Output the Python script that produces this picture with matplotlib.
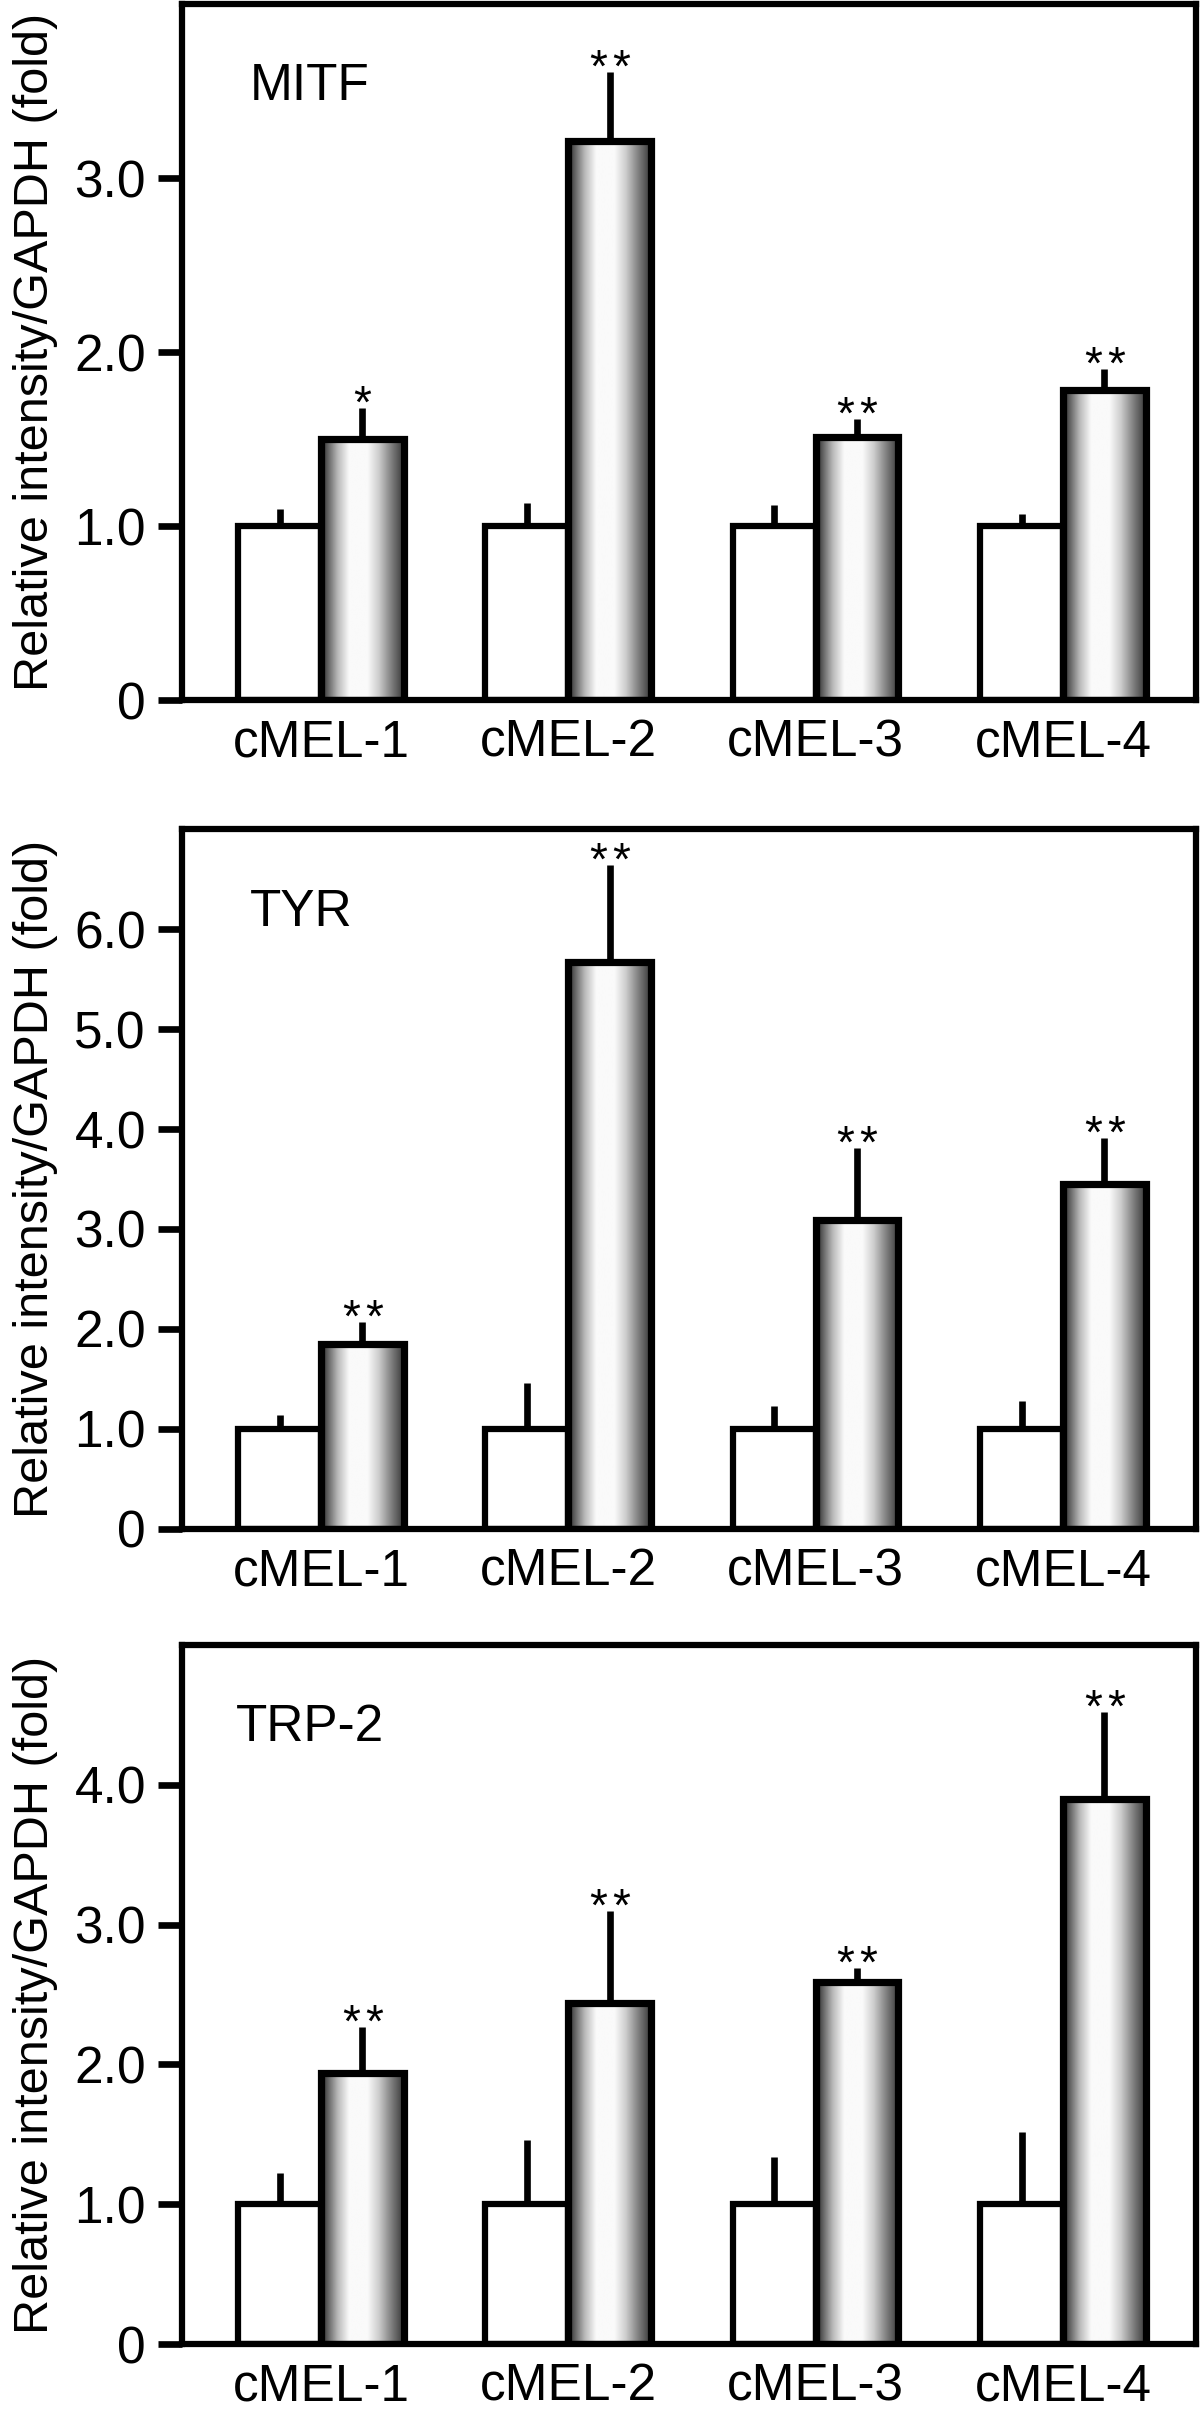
import numpy as np
import matplotlib
matplotlib.use("Agg")
import matplotlib.pyplot as plt

plt.rcParams['font.family'] = ['Liberation Sans', 'DejaVu Sans']

# data (fold change vs GAPDH)
cell_lines = ['cMEL-1', 'cMEL-2', 'cMEL-3', 'cMEL-4']
genes = ['MITF', 'TYR', 'TRP-2']

mitf_ctrl = [1.0, 1.0, 1.0, 1.0]
mitf_ctrl_err = [0.10, 0.13, 0.12, 0.07]
mitf_treat = [1.50, 3.21, 1.51, 1.78]
mitf_treat_err = [0.18, 0.40, 0.105, 0.12]
mitf_sig = ['*', '**', '**', '**']

tyr_ctrl = [1.0, 1.0, 1.0, 1.0]
tyr_ctrl_err = [0.14, 0.46, 0.23, 0.28]
tyr_treat = [1.85, 5.67, 3.09, 3.45]
tyr_treat_err = [0.22, 0.97, 0.72, 0.46]
tyr_sig = ['**', '**', '**', '**']

trp2_ctrl = [1.0, 1.0, 1.0, 1.0]
trp2_ctrl_err = [0.22, 0.46, 0.34, 0.52]
trp2_treat = [1.94, 2.44, 2.59, 3.90]
trp2_treat_err = [0.33, 0.66, 0.10, 0.62]
trp2_sig = ['**', '**', '**', '**']

y_max = [4.0, 7.0, 5.0]
y_ticks = [[0, 1, 2, 3], [0, 1, 2, 3, 4, 5, 6], [0, 1, 2, 3, 4]]

panels = [
    (mitf_ctrl, mitf_ctrl_err, mitf_treat, mitf_treat_err, mitf_sig),
    (tyr_ctrl, tyr_ctrl_err, tyr_treat, tyr_treat_err, tyr_sig),
    (trp2_ctrl, trp2_ctrl_err, trp2_treat, trp2_treat_err, trp2_sig),
]

W, H = 1200, 2421
fig = plt.figure(figsize=(W / 100, H / 100), dpi=100)

# axes boxes in pixels: (left, top, right, bottom)
boxes = [(182, 4, 1196, 700), (182, 829, 1196, 1529), (182, 1645, 1196, 2344)]
title_x = [0.067, 0.067, 0.053]

# horizontal shading of the treated bars: dark edges, white middle
gx = np.linspace(0, 1, 256)
shade = np.interp(gx, [0, 0.07, 0.2, 0.34, 0.56, 0.7, 0.85, 1.0],
                  [0.12, 0.35, 0.72, 0.98, 0.98, 0.8, 0.5, 0.22])

bw = 0.335
x = np.arange(len(cell_lines))

for i, (ctrl, ctrl_err, treat, treat_err, sig) in enumerate(panels):
    l, t, r, b = boxes[i]
    ax = fig.add_axes([l / W, (H - b) / H, (r - l) / W, (b - t) / H])

    xc = x - bw / 2
    xt = x + bw / 2

    # error bars (upper only, no caps)
    ax.errorbar(xc, ctrl, yerr=[np.zeros(4), ctrl_err], fmt='none',
                ecolor='black', elinewidth=4.8, capsize=0, zorder=1)
    ax.errorbar(xt, treat, yerr=[np.zeros(4), treat_err], fmt='none',
                ecolor='black', elinewidth=4.8, capsize=0, zorder=1)

    ax.bar(xc, ctrl, width=bw, color='white', edgecolor='black',
           linewidth=4.5, joinstyle='miter', zorder=3)
    for xi, h in zip(xt, treat):
        ax.imshow(shade[np.newaxis, :], extent=(xi - bw / 2, xi + bw / 2, 0, h),
                  aspect='auto', cmap='gray', vmin=0, vmax=1,
                  interpolation='bilinear', zorder=2)
    ax.bar(xt, treat, width=bw, fill=False, edgecolor='black',
           linewidth=5.2, joinstyle='miter', zorder=3)

    # significance asterisks, spaced apart like the original
    for xi, h, e, s in zip(xt, treat, treat_err, sig):
        n = len(s)
        for k in range(n):
            dx = (k - (n - 1) / 2) * 16.5
            ax.annotate('*', (xi, h + e), xytext=(dx, -7),
                        textcoords='offset points',
                        ha='center', va='baseline', fontsize=33)

    ax.set_xlim(-0.562, 3.538)
    ax.set_ylim(0, y_max[i])
    ax.set_yticks(y_ticks[i])
    ax.set_yticklabels(['0' if v == 0 else '%.1f' % v for v in y_ticks[i]])
    ax.set_xticks(x)
    ax.set_xticklabels(cell_lines)
    ax.tick_params(axis='y', direction='out', length=17, width=4.8,
                   pad=9, labelsize=37)
    ax.tick_params(axis='x', length=0, pad=13, labelsize=37)
    for sp in ax.spines.values():
        sp.set_linewidth(4.5)
        sp.set_zorder(5)

    ax.text(title_x[i], 0.862, genes[i], transform=ax.transAxes,
            fontsize=37, ha='left', va='baseline')

    ax.set_ylabel('Relative intensity/GAPDH (fold)', fontsize=35)
    ax.yaxis.set_label_coords(-0.122, 0.5)

fig.savefig('out.png', dpi=100)
